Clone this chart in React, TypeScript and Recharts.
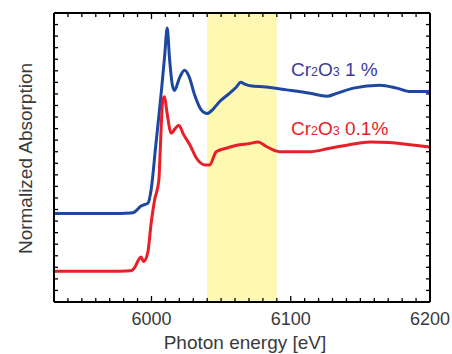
import React from 'react'
import { LineChart, Line, XAxis, YAxis, ReferenceArea } from 'recharts'

// normalized absorption in arbitrary units (blue offset by +1)
const blueEnergy = [5930, 5950, 5970, 5985, 5988, 5992.5, 5997.5, 5999.8, 6003, 6007.2, 6009.5, 6011.3, 6013, 6015, 6016.5, 6020, 6023.7, 6027, 6031, 6035.8, 6040, 6044, 6049, 6056, 6061, 6064, 6067, 6071, 6082, 6097, 6114, 6126, 6133, 6145, 6164, 6176, 6186, 6200]
const blueAbs = [1.53, 1.53, 1.53, 1.54, 1.56, 1.66, 1.71, 1.95, 2.69, 3.67, 4.27, 4.74, 4.2, 3.75, 3.66, 3.87, 4.01, 3.9, 3.58, 3.32, 3.26, 3.33, 3.47, 3.61, 3.72, 3.8, 3.77, 3.74, 3.72, 3.67, 3.61, 3.56, 3.61, 3.7, 3.75, 3.7, 3.64, 3.64]

const redEnergy = [5930, 5950, 5970, 5985, 5988, 5990.5, 5992.6, 5994.2, 5997.3, 5999.8, 6002.2, 6005.3, 6006.3, 6008.1, 6009.4, 6011, 6014.2, 6017, 6019.6, 6023, 6028, 6032, 6038.8, 6041.7, 6046.5, 6053.7, 6063.3, 6070, 6076.5, 6082.5, 6092, 6114, 6128, 6142, 6157, 6171, 6186, 6200]
const redAbs = [0.53, 0.53, 0.53, 0.54, 0.6, 0.72, 0.78, 0.7, 0.85, 1.37, 1.76, 2.11, 2.63, 3.49, 3.55, 3.3, 2.92, 3.0, 3.06, 2.9, 2.7, 2.5, 2.37, 2.37, 2.6, 2.66, 2.72, 2.74, 2.77, 2.69, 2.6, 2.6, 2.66, 2.72, 2.77, 2.76, 2.72, 2.68]

const xMajorTicks = [6000, 6100, 6200]
const xDomain = [5930, 6200]
const yDomain = [0, 5]
const highlightRange = [6040, 6090]

const BLUE = '#1d47a0'
const RED = '#e81e28'
const TEXT = '#3a3a3a'

const blueData = blueEnergy.map((e, i) => ({ e, v: blueAbs[i] }))
const redData = redEnergy.map((e, i) => ({ e, v: redAbs[i] }))

// minor ticks every 10 eV / 0.2 units
const xTicks: number[] = []
for (let t = 5940; t <= 6200; t += 10) xTicks.push(t)
const yTicks: number[] = []
for (let i = 1; i < 25; i++) yTicks.push(Math.round(i * 20) / 100)

const isMajorY = (v: number) => Math.abs((v - 0.5) % 1) < 0.01

function BottomTick(props: any) {
  const { x, y, payload } = props
  const major = xMajorTicks.includes(payload.value)
  return (
    <g>
      <line x1={x} y1={y} x2={x} y2={y - (major ? 6 : 4)} stroke="#000" strokeWidth={1.3} />
      {major && (
        <text x={x} y={y + 23} textAnchor="middle" fontSize={18} fill={TEXT} fontFamily="Liberation Sans, Arial, sans-serif">
          {payload.value}
        </text>
      )}
    </g>
  )
}

function TopTick(props: any) {
  const { x, y, payload } = props
  const major = xMajorTicks.includes(payload.value)
  return <line x1={x} y1={y} x2={x} y2={y + (major ? 6 : 4)} stroke="#000" strokeWidth={1.3} />
}

function LeftTick(props: any) {
  const { x, y, payload } = props
  return <line x1={x} y1={y} x2={x + (isMajorY(payload.value) ? 6 : 4)} y2={y} stroke="#000" strokeWidth={1.3} />
}

function RightTick(props: any) {
  const { x, y, payload } = props
  return <line x1={x} y1={y} x2={x - (isMajorY(payload.value) ? 6 : 4)} y2={y} stroke="#000" strokeWidth={1.3} />
}

const axisLine = { stroke: '#000', strokeWidth: 2 }

export default function App() {
  return (
    <div style={{ position: 'absolute', left: 0, top: 0, width: 452, height: 354, background: '#fff' }}>
      <LineChart width={452} height={354} margin={{ top: 12, right: 21, bottom: 51, left: 53 }}>
        <ReferenceArea xAxisId="b" yAxisId="l" x1={highlightRange[0]} x2={highlightRange[1]} fill="#fdf8b2" fillOpacity={1} stroke="none" />
        <XAxis xAxisId="b" dataKey="e" type="number" domain={xDomain} ticks={xTicks} interval={0}
          height={1} tickSize={0} tickMargin={0} tickLine={false} axisLine={axisLine} tick={<BottomTick />} allowDataOverflow />
        <XAxis xAxisId="t" orientation="top" dataKey="e" type="number" domain={xDomain} ticks={xTicks} interval={0}
          height={1} tickSize={0} tickMargin={0} tickLine={false} axisLine={axisLine} tick={<TopTick />} allowDataOverflow />
        <YAxis yAxisId="l" type="number" domain={yDomain} ticks={yTicks} interval={0}
          width={1} tickSize={0} tickMargin={0} tickLine={false} axisLine={axisLine} tick={<LeftTick />} allowDataOverflow />
        <YAxis yAxisId="r" orientation="right" type="number" domain={yDomain} ticks={yTicks} interval={0}
          width={1} tickSize={0} tickMargin={0} tickLine={false} axisLine={axisLine} tick={<RightTick />} allowDataOverflow />
        <Line xAxisId="b" yAxisId="l" data={blueData} dataKey="v" type="monotone" stroke={BLUE} strokeWidth={3} dot={false} isAnimationActive={false} />
        <Line xAxisId="b" yAxisId="l" data={redData} dataKey="v" type="monotone" stroke={RED} strokeWidth={3} dot={false} isAnimationActive={false} />
      </LineChart>
      <svg width={452} height={354} style={{ position: 'absolute', left: 0, top: 0, pointerEvents: 'none' }}
        fontFamily="Liberation Sans, Arial, sans-serif">
        <text x={291} y={75.5} fontSize={19} fill="#3a3c98">
          Cr<tspan fontSize={12.5}>2</tspan>O<tspan fontSize={12.5}>3</tspan> 1 %
        </text>
        <text x={291} y={135} fontSize={19} fill={RED}>
          Cr<tspan fontSize={12.5}>2</tspan>O<tspan fontSize={12.5}>3</tspan> 0.1%
        </text>
        <text x={245} y={348.5} fontSize={19} fill={TEXT} textAnchor="middle">Photon energy [eV]</text>
        <text transform="translate(31.5,158.5) rotate(-90)" fontSize={19} fill={TEXT} textAnchor="middle">Normalized Absorption</text>
      </svg>
    </div>
  )
}
